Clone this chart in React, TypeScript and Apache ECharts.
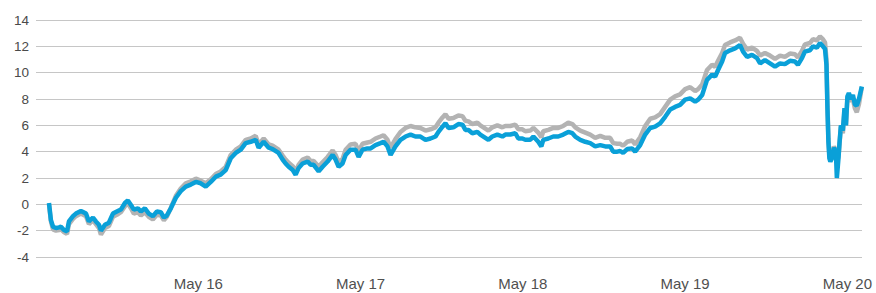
import React, { useEffect, useRef } from "react";
import * as echarts from "echarts";

// Time in days since May 15 00:00
const dayOffsets: number[] = [
  0.080, 0.092, 0.105, 0.123, 0.142, 0.154, 0.172, 0.191, 0.203, 0.228,
  0.246, 0.277, 0.308, 0.326, 0.351, 0.369, 0.388, 0.400, 0.425, 0.449,
  0.474, 0.498, 0.523, 0.548, 0.566, 0.585, 0.603, 0.628, 0.646, 0.671,
  0.695, 0.720, 0.745, 0.769, 0.788, 0.806, 0.831, 0.862, 0.892, 0.923,
  0.954, 0.985, 1.015, 1.046, 1.077, 1.108, 1.138, 1.169, 1.200, 1.231,
  1.262, 1.292, 1.323, 1.354, 1.372, 1.403, 1.434, 1.458, 1.495, 1.520,
  1.538, 1.557, 1.582, 1.600, 1.618, 1.643, 1.674, 1.692, 1.711, 1.742,
  1.766, 1.797, 1.828, 1.846, 1.865, 1.889, 1.908, 1.938, 1.969, 1.988,
  2.012, 2.043, 2.062, 2.092, 2.123, 2.142, 2.166, 2.185, 2.215, 2.246,
  2.277, 2.308, 2.338, 2.369, 2.400, 2.431, 2.462, 2.480, 2.505, 2.523,
  2.542, 2.572, 2.603, 2.628, 2.646, 2.665, 2.689, 2.720, 2.738, 2.757,
  2.788, 2.812, 2.843, 2.874, 2.892, 2.923, 2.954, 2.972, 2.997, 3.015,
  3.046, 3.065, 3.095, 3.114, 3.126, 3.157, 3.188, 3.218, 3.249, 3.280,
  3.305, 3.323, 3.354, 3.385, 3.415, 3.446, 3.477, 3.508, 3.538, 3.557,
  3.582, 3.600, 3.618, 3.643, 3.674, 3.692, 3.723, 3.754, 3.785, 3.815,
  3.846, 3.877, 3.908, 3.938, 3.969, 4.000, 4.031, 4.062, 4.080, 4.105,
  4.135, 4.166, 4.185, 4.203, 4.228, 4.246, 4.277, 4.308, 4.338, 4.357,
  4.382, 4.412, 4.443, 4.462, 4.492, 4.523, 4.554, 4.585, 4.615, 4.646,
  4.677, 4.695, 4.720, 4.738, 4.769, 4.788, 4.812, 4.831, 4.849, 4.862,
  4.871, 4.877, 4.883, 4.889, 4.895, 4.905, 4.917, 4.929, 4.935, 4.945,
  4.951, 4.960, 4.972, 4.982, 4.991, 5.000, 5.009, 5.022, 5.034, 5.046,
  5.058, 5.071, 5.089,
];

const blueValues: number[] = [
  0.1, -1.2, -1.7, -1.8, -1.75, -1.7, -1.95, -2.05, -1.3, -0.9,
  -0.7, -0.5, -0.7, -1.3, -1.0, -1.3, -1.55, -2.0, -1.55, -1.4,
  -0.7, -0.55, -0.4, 0.1, 0.3, -0.05, -0.4, -0.3, -0.55, -0.3,
  -0.7, -0.9, -0.55, -0.6, -1.0, -0.85, -0.3, 0.5, 1.0, 1.35,
  1.5, 1.7, 1.6, 1.35, 1.7, 2.1, 2.25, 2.6, 3.5, 3.9,
  4.15, 4.65, 4.75, 4.9, 4.3, 4.75, 4.3, 4.2, 3.9, 3.4,
  3.1, 2.85, 2.6, 2.25, 2.75, 3.1, 3.25, 3.0, 3.0, 2.5,
  2.85, 3.25, 3.75, 3.4, 2.85, 3.1, 3.75, 4.15, 4.15, 3.6,
  4.15, 4.25, 4.25, 4.5, 4.65, 4.75, 4.4, 3.75, 4.4, 4.9,
  5.15, 5.3, 5.15, 5.15, 4.9, 5.0, 5.15, 5.5, 5.9, 6.15,
  5.8, 5.85, 6.1, 6.05, 5.65, 5.65, 5.4, 5.5, 5.3, 5.15,
  4.9, 5.15, 5.3, 5.15, 5.3, 5.3, 5.4, 5.0, 5.0, 4.9,
  4.9, 5.15, 4.75, 4.4, 4.9, 5.0, 5.15, 5.15, 5.3, 5.5,
  5.4, 5.15, 4.9, 4.75, 4.65, 4.4, 4.5, 4.4, 4.4, 4.0,
  4.0, 4.05, 3.9, 4.2, 4.25, 4.0, 4.5, 5.3, 5.8, 5.9,
  6.15, 6.65, 7.2, 7.4, 7.55, 7.95, 8.05, 7.8, 7.95, 8.3,
  9.45, 9.85, 9.7, 10.2, 10.85, 11.5, 11.7, 11.85, 12.1, 11.6,
  11.2, 11.35, 11.1, 10.7, 10.95, 10.7, 10.45, 10.7, 10.65, 10.9,
  10.85, 10.6, 11.1, 11.6, 11.7, 12.0, 11.9, 12.25, 12.0, 11.8,
  10.6, 7.3, 4.75, 3.5, 3.25, 3.5, 4.3, 4.0, 2.0, 3.5,
  4.6, 6.0, 5.6, 7.3, 6.0, 8.2, 8.45, 8.0, 8.3, 7.6,
  7.5, 8.0, 8.95,
];

const grayValues: number[] = [
  0.0, -1.3, -1.9, -2.0, -1.95, -1.9, -2.1, -2.25, -1.5, -1.1,
  -0.9, -0.7, -0.9, -1.5, -1.2, -1.5, -1.8, -2.3, -1.8, -1.65,
  -0.95, -0.8, -0.6, -0.15, 0.1, -0.3, -0.7, -0.6, -0.85, -0.6,
  -0.95, -1.15, -0.8, -0.85, -1.2, -0.95, -0.25, 0.65, 1.2, 1.6,
  1.75, 1.95, 1.8, 1.6, 1.9, 2.3, 2.5, 2.85, 3.75, 4.15,
  4.4, 4.9, 5.0, 5.2, 4.55, 5.0, 4.55, 4.45, 4.15, 3.7,
  3.4, 3.15, 2.9, 2.5, 3.0, 3.4, 3.55, 3.3, 3.3, 2.85,
  3.2, 3.6, 4.1, 3.75, 3.2, 3.45, 4.15, 4.55, 4.6, 4.05,
  4.6, 4.7, 4.75, 5.0, 5.15, 5.25, 4.9, 4.3, 4.95, 5.5,
  5.8, 5.95, 5.85, 5.8, 5.6, 5.7, 5.85, 6.2, 6.6, 6.85,
  6.5, 6.55, 6.75, 6.7, 6.35, 6.3, 6.1, 6.2, 6.0, 5.85,
  5.6, 5.85, 6.0, 5.85, 5.95, 5.95, 6.05, 5.7, 5.7, 5.55,
  5.6, 5.8, 5.45, 5.1, 5.55, 5.65, 5.8, 5.8, 5.95, 6.2,
  6.1, 5.85, 5.6, 5.45, 5.3, 5.05, 5.2, 5.05, 5.05, 4.65,
  4.6, 4.6, 4.45, 4.75, 4.85, 4.55, 5.1, 5.95, 6.5, 6.6,
  6.85, 7.4, 7.95, 8.2, 8.35, 8.75, 8.9, 8.6, 8.75, 9.1,
  10.2, 10.6, 10.45, 10.9, 11.5, 12.1, 12.3, 12.45, 12.65, 12.2,
  11.75, 11.9, 11.65, 11.3, 11.5, 11.3, 11.05, 11.3, 11.2, 11.45,
  11.4, 11.15, 11.65, 12.15, 12.25, 12.55, 12.45, 12.75, 12.55, 12.3,
  11.0, 7.6, 5.0, 3.7, 3.4, 3.6, 4.4, 4.1, 3.2, 3.6,
  4.5, 5.9, 5.4, 7.1, 6.0, 8.0, 8.3, 7.8, 8.0, 7.3,
  7.0, 7.6, 8.9,
];

const tickDays: number[] = [1, 2, 3, 4, 5];
const tickLabels: string[] = ["May 16", "May 17", "May 18", "May 19", "May 20"];

export default function App() {
  const ref = useRef<HTMLDivElement>(null);
  useEffect(() => {
    if (!ref.current) return;
    const chart = echarts.init(ref.current, null, { renderer: "svg" });
    const fontFamily = "'Liberation Sans', Arial, sans-serif";
    chart.setOption({
      animation: false,
      backgroundColor: "#ffffff",
      grid: {
        left: 36,
        right: 14,
        top: 20,
        bottom: 36,
        containLabel: false,
        outerBoundsMode: "none",
      },
      xAxis: {
        type: "value",
        min: 0,
        max: 5.09,
        interval: 1,
        axisLine: { show: false },
        axisTick: { show: false },
        splitLine: { show: false },
        axisLabel: {
          margin: 19,
          color: "#505050",
          fontSize: 15,
          fontFamily,
          showMinLabel: false,
          showMaxLabel: false,
          formatter: (v: number) => {
            const idx = tickDays.indexOf(Math.round(v * 1000) / 1000);
            return idx >= 0 ? tickLabels[idx] : "";
          },
        },
      },
      yAxis: {
        type: "value",
        min: -4,
        max: 14,
        interval: 2,
        axisLine: { show: false },
        axisTick: { show: false },
        splitLine: { show: true, lineStyle: { color: "#c6c6c6", width: 1 } },
        axisLabel: {
          margin: 7,
          color: "#4a4a4a",
          fontSize: 13.5,
          fontFamily,
        },
      },
      series: [
        {
          name: "Gray",
          type: "line",
          showSymbol: false,
          data: dayOffsets.map((t, i) => [t, grayValues[i]]),
          lineStyle: { color: "#b3b3b3", width: 4.5 },
          itemStyle: { color: "#b3b3b3" },
          z: 2,
        },
        {
          name: "Blue",
          type: "line",
          showSymbol: false,
          data: dayOffsets.map((t, i) => [t, blueValues[i]]),
          lineStyle: { color: "#0aa0d8", width: 4.5 },
          itemStyle: { color: "#0aa0d8" },
          z: 3,
        },
      ],
    });
    return () => chart.dispose();
  }, []);
  return (
    <div
      ref={ref}
      style={{ position: "fixed", left: 0, top: 0, width: 876, height: 293 }}
    />
  );
}
